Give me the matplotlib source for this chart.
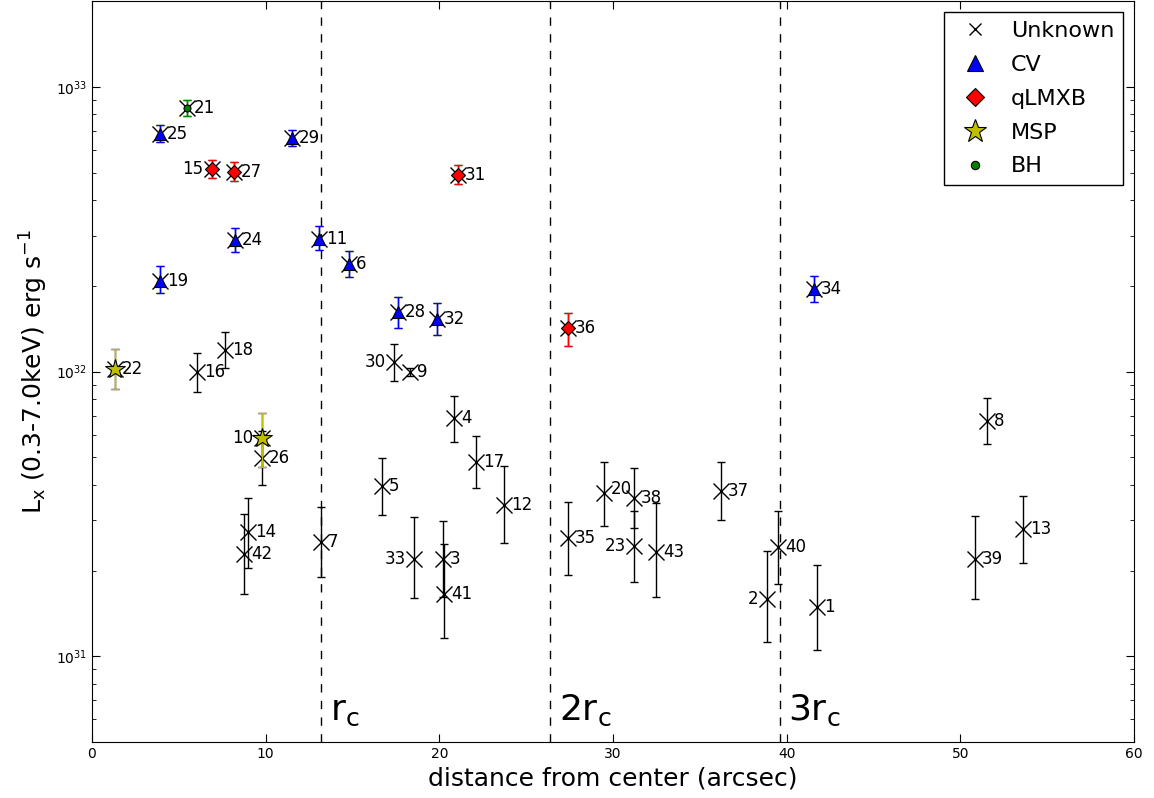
import numpy as np
import matplotlib
matplotlib.use('Agg')
import matplotlib.pyplot as plt
from matplotlib.lines import Line2D

# source ids, projected distance (arcsec), Lx in 1e31 erg/s with error bar ends
src_id = list(range(1, 44))
dist = [41.74, 38.86, 20.21, 20.84, 16.70, 14.80, 13.18, 51.53, 18.31, 9.79,
        13.07, 23.72, 53.60, 8.98, 6.91, 6.05, 22.11, 7.66, 3.91, 29.48,
        5.47, 1.32, 31.20, 8.23, 3.91, 9.79, 8.18, 17.62, 11.51, 17.39,
        21.07, 19.86, 18.54, 41.57, 27.40, 27.40, 36.21, 31.20, 50.83, 39.49,
        20.27, 8.75, 32.47]
lum = [1.49, 1.59, 2.19, 6.87, 3.96, 23.9, 2.52, 6.72, 9.96, 5.84,
       29.2, 3.40, 2.80, 2.73, 51.5, 9.96, 4.81, 11.9, 20.8, 3.74,
       84.4, 10.2, 2.44, 29.0, 68.4, 4.97, 50.3, 16.2, 66.2, 10.8,
       49.1, 15.3, 2.19, 19.5, 2.60, 14.2, 3.80, 3.59, 2.19, 2.42,
       1.66, 2.28, 2.32]
lum_lo = [1.05, 1.12, 1.61, 5.65, 3.13, 21.5, 1.90, 5.56, 9.64, 4.62,
          26.7, 2.50, 2.12, 2.04, 47.9, 8.47, 3.90, 10.3, 18.9, 2.86,
          79.1, 8.68, 1.83, 26.3, 64.1, 3.99, 46.7, 14.2, 62.0, 9.26,
          45.6, 13.4, 1.60, 17.5, 1.93, 12.3, 3.01, 2.82, 1.59, 1.79,
          1.16, 1.65, 1.62]
lum_hi = [2.09, 2.34, 2.98, 8.20, 4.97, 26.5, 3.34, 8.07, 10.3, 7.15,
          32.5, 4.66, 3.65, 3.59, 55.4, 11.6, 5.93, 13.8, 23.5, 4.81,
          90.0, 12.0, 3.23, 31.9, 73.5, 6.18, 54.5, 18.3, 70.6, 12.5,
          53.2, 17.4, 3.08, 21.7, 3.48, 16.1, 4.81, 4.58, 3.10, 3.23,
          2.48, 3.16, 3.45]
src_type = ['U', 'U', 'U', 'U', 'U', 'CV', 'U', 'U', 'U', 'MSP',
            'CV', 'U', 'U', 'U', 'qLMXB', 'U', 'U', 'U', 'CV', 'U',
            'BH', 'MSP', 'U', 'CV', 'CV', 'U', 'qLMXB', 'CV', 'CV', 'U',
            'qLMXB', 'CV', 'U', 'CV', 'U', 'qLMXB', 'U', 'U', 'U', 'U',
            'U', 'U', 'U']

core_radius = 13.2
legend_names = ['Unknown', 'CV', 'qLMXB', 'MSP', 'BH']
legend_keys = ['U', 'CV', 'qLMXB', 'MSP', 'BH']

# marker style per class (ms in plot, lms in legend)
styles = {
    'U': dict(marker='x', color='k', ms=11, lms=9),
    'CV': dict(marker='^', color='b', ms=8, lms=11),
    'qLMXB': dict(marker='D', color='r', ms=7, lms=9),
    'MSP': dict(marker='*', color='y', ms=15, lms=17),
    'BH': dict(marker='o', color='g', ms=5, lms=6),
}
left_labels = {15, 10, 30, 33, 23, 2}

dist = np.array(dist)
lx = np.array(lum) * 1e31
lx_err = np.vstack([lx - np.array(lum_lo) * 1e31, np.array(lum_hi) * 1e31 - lx])

plt.rcParams['xtick.direction'] = 'in'
plt.rcParams['ytick.direction'] = 'in'
plt.rcParams['xtick.top'] = True
plt.rcParams['ytick.right'] = True
plt.rcParams['xtick.major.size'] = 6
plt.rcParams['ytick.major.size'] = 6
plt.rcParams['ytick.minor.size'] = 3
plt.rcParams['xtick.minor.size'] = 3

fig = plt.figure(figsize=(11.54, 7.98), dpi=100)
ax = fig.add_axes([0.0797, 0.0702, 0.9030, 0.9283])

# every source gets a black cross with error bar
ax.errorbar(dist, lx, yerr=lx_err, fmt='x', color='k', ms=11, mew=1.0,
            elinewidth=1.0, capsize=3, zorder=2)

for t in ['CV', 'qLMXB', 'MSP', 'BH']:
    sel = np.array([s == t for s in src_type])
    st = styles[t]
    ax.errorbar(dist[sel], lx[sel], yerr=lx_err[:, sel], fmt=st['marker'],
                color=st['color'], mfc=st['color'], mec='k', mew=0.8,
                ms=st['ms'], elinewidth=1.0, capsize=3, zorder=3)

for i, sid in enumerate(src_id):
    if sid in left_labels:
        off, ha = (-6, 'right')
    else:
        off, ha = (5, 'left')
    dy = 3 if sid == 20 else 0
    ax.annotate(str(sid), (dist[i], lx[i]), xytext=(off, dy),
                textcoords='offset points', ha=ha, va='center', fontsize=12)

for k, lab in enumerate([r'r$_\mathrm{c}$', r'2r$_\mathrm{c}$', r'3r$_\mathrm{c}$']):
    xv = core_radius * (k + 1)
    ax.axvline(xv, color='k', ls='--', lw=1.0, dashes=(6, 6))
    ax.text(xv + 0.5, 5.6e30, lab, fontsize=26, ha='left', va='bottom')

ax.set_yscale('log')
ax.set_xlim(0, 60)
ax.set_ylim(5e30, 2e33)
ax.tick_params(labelsize=10)
ax.set_xlabel('distance from center (arcsec)', fontsize=18)
ax.set_ylabel(r'L$_\mathrm{x}$ (0.3-7.0keV) erg s$^{-1}$', fontsize=18)

handles = []
for key in legend_keys:
    st = styles[key]
    handles.append(Line2D([], [], ls='none', marker=st['marker'], color=st['color'],
                          mfc=st['color'], mec='k',
                          mew=0.8 if key != 'U' else 1.0, ms=st['lms']))
leg = ax.legend(handles, legend_names, loc='upper right', numpoints=1,
                fontsize=16, fancybox=False, framealpha=1, edgecolor='k',
                borderaxespad=0.5, handletextpad=0.6, labelspacing=0.62)
leg.get_frame().set_linewidth(1.0)

fig.savefig('out.png', dpi=100)
